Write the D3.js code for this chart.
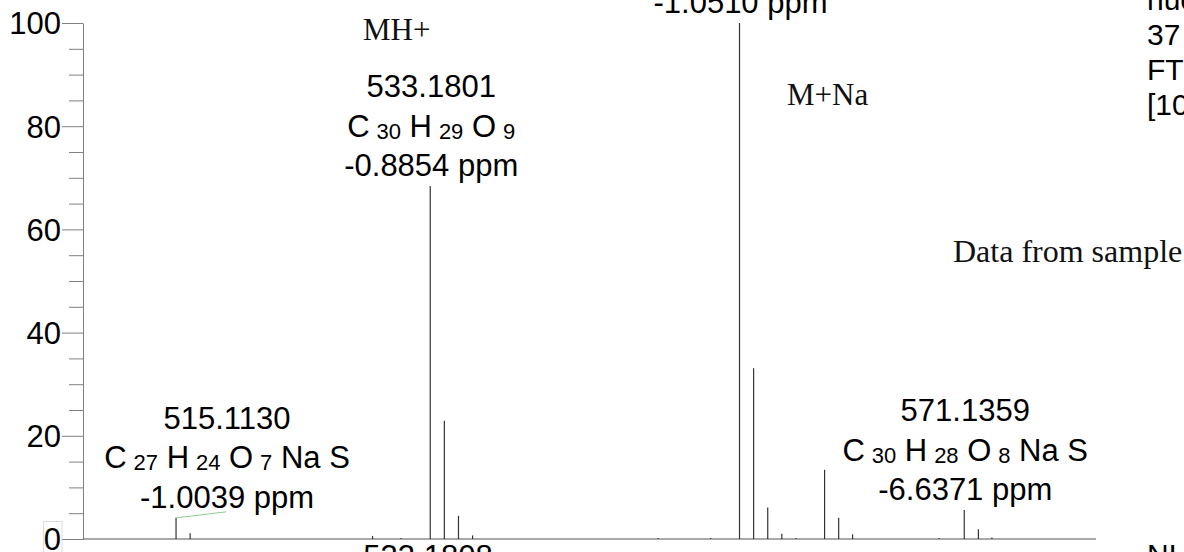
<!DOCTYPE html>
<html>
<head>
<meta charset="utf-8">
<script src="https://cdn.jsdelivr.net/npm/d3@7"></script>
<style>
  html, body { margin: 0; padding: 0; background: #fff; }
  svg { display: block; }
</style>
</head>
<body>
<svg id="chart" width="1184" height="552"></svg>
<script>
// ---- data ----
const peakMz = [515.1130, 516.116, 529.08, 531.10, 533.1801, 534.1835, 535.187, 536.19, 549.37,
                553.116, 555.1620, 556.165, 557.168, 558.17, 559.17, 561.21, 562.21, 563.20,
                569.35, 571.1359, 572.14, 573.10];
const peakInt = [4.1, 1.1, 0.6, 0.2, 68.4, 22.9, 4.5, 0.7, 0.2,
                 0.2, 100, 33.1, 6.1, 1.0, 0.2, 13.4, 4.1, 0.9,
                 0.2, 5.6, 1.9, 0.3];

const annMz      = [515.1130, 533.1801, 555.1620, 571.1359];
const annMass    = ["515.1130", "533.1801", null, "571.1359"];
const annFormula = [
  [["C","27"],["H","24"],["O","7"],["Na",""],["S",""]],
  [["C","30"],["H","29"],["O","9"]],
  null,
  [["C","30"],["H","28"],["O","8"],["Na",""],["S",""]]
];
const annPpm     = ["-1.0039 ppm", "-0.8854 ppm", "-1.0510 ppm", "-6.6371 ppm"];
const annShift   = [true, false, false, false]; // label offset with leader line

const yMajorTicks = [0, 20, 40, 60, 80, 100];
const yMinorTicks = d3.range(0, 101, 5).filter(v => v % 20 !== 0);
const xDomain = [508.5, 580.5];
const yDomain = [0, 100];

const serifNotes = ["MH+", "M+Na", "Data from sample"];
const headerLines = ["nuc", "37", "FT", "[10"];
const footerLeft = "533.1808";
const footerRight = "NL:";

// ---- layout ----
const svg = d3.select("#chart");
const SANS = "'Liberation Sans', Arial, sans-serif";
const SERIF = "'Liberation Serif', 'Times New Roman', serif";
const FS = 31, SUB = 22;

const x = d3.scaleLinear().domain(xDomain).range([83, 1096]);
const y = d3.scaleLinear().domain(yDomain).range([539, 23]);

// y axis: minor ticks
const minor = svg.append("g").attr("transform", "translate(83,0)")
  .call(d3.axisLeft(y).tickValues(yMinorTicks).tickSize(14).tickSizeOuter(0).tickFormat(""));
minor.select(".domain").remove();
minor.selectAll("line").attr("stroke", "#808080");

const major = svg.append("g").attr("transform", "translate(83,0)")
  .call(d3.axisLeft(y).tickValues(yMajorTicks).tickSize(21).tickSizeOuter(0).tickPadding(1)
        .tickFormat(d3.format("d")));
major.select(".domain").attr("stroke", "#808080");
major.selectAll("line").attr("stroke", "#808080");
major.selectAll("text").attr("font-family", SANS).attr("font-size", FS)
  .attr("fill", "#000").attr("dy", "0.35em");

// faint box around zero label
svg.append("rect").attr("x", 43.5).attr("y", 521.5).attr("width", 18.5).attr("height", 32)
  .attr("fill", "none").attr("stroke", "#dcdcdc").attr("stroke-width", 1);

// baseline
svg.append("line").attr("x1", x(xDomain[0])).attr("x2", x(xDomain[1]))
  .attr("y1", y(0)).attr("y2", y(0)).attr("stroke", "#555").attr("stroke-width", 1.2);

// peaks
svg.append("g").selectAll("line").data(peakMz).join("line")
  .attr("x1", d => x(d)).attr("x2", d => x(d))
  .attr("y1", y(0)).attr("y2", (d, i) => y(peakInt[i]))
  .attr("stroke", "#333").attr("stroke-width", 1.2);

// annotations
const LINE = 39.5, GAP = 10, SHIFT = 51;
function drawFormula(sel, parts) {
  const tokens = [];
  parts.forEach(([el, sub]) => {
    tokens.push({t: el, sub: false});
    if (sub) tokens.push({t: sub, sub: true});
  });
  let shifted = false;
  tokens.forEach((tk, i) => {
    if (tk.sub) {
      sel.append("tspan").attr("font-size", FS * 0.8).text(" ");
      sel.append("tspan").attr("font-size", SUB).attr("dy", 2).text(tk.t);
      shifted = true;
    } else {
      const ts = sel.append("tspan").attr("font-size", FS).text((i > 0 ? " " : "") + tk.t);
      if (shifted) { ts.attr("dy", -2); shifted = false; }
    }
  });
}

annMz.forEach((mz, i) => {
  const peakIdx = peakMz.indexOf(mz);
  const px = x(mz), py = y(peakInt[peakIdx]);
  const cx = annShift[i] ? px + SHIFT : px + 1;
  const ppmY = py - GAP;
  if (annShift[i]) {
    svg.append("line").attr("x1", px).attr("y1", py).attr("x2", cx - 1).attr("y2", py - 6)
      .attr("stroke", "#8fcf8f").attr("stroke-width", 1);
  }
  const g = svg.append("g").attr("font-family", SANS).attr("text-anchor", "middle").attr("fill", "#000");
  g.append("text").attr("x", cx).attr("y", ppmY).attr("font-size", FS).text(annPpm[i]);
  if (annFormula[i]) {
    const t = g.append("text").attr("x", cx).attr("y", ppmY - LINE);
    drawFormula(t, annFormula[i]);
  }
  if (annMass[i]) {
    g.append("text").attr("x", cx).attr("y", ppmY - 2 * LINE).attr("font-size", FS).text(annMass[i]);
  }
});

// serif notes
const serifPos = [[363, 40], [787, 105], [953, 262]];
const serifSize = [31, 31, 32];
serifNotes.forEach((t, i) => {
  svg.append("text").attr("x", serifPos[i][0]).attr("y", serifPos[i][1])
    .attr("font-family", SERIF).attr("font-size", serifSize[i]).attr("fill", "#111").text(t);
});

// header lines at top right
headerLines.forEach((t, i) => {
  svg.append("text").attr("x", 1147).attr("y", 10 + i * 35)
    .attr("font-family", SANS).attr("font-size", 30).attr("fill", "#000").text(t);
});

// footer texts (mostly cut off)
svg.append("text").attr("x", 428).attr("y", 567).attr("text-anchor", "middle")
  .attr("font-family", SANS).attr("font-size", FS).attr("fill", "#000").text(footerLeft);
svg.append("text").attr("x", 1147).attr("y", 565)
  .attr("font-family", SANS).attr("font-size", 30).attr("fill", "#000").text(footerRight);
</script>
</body>
</html>
